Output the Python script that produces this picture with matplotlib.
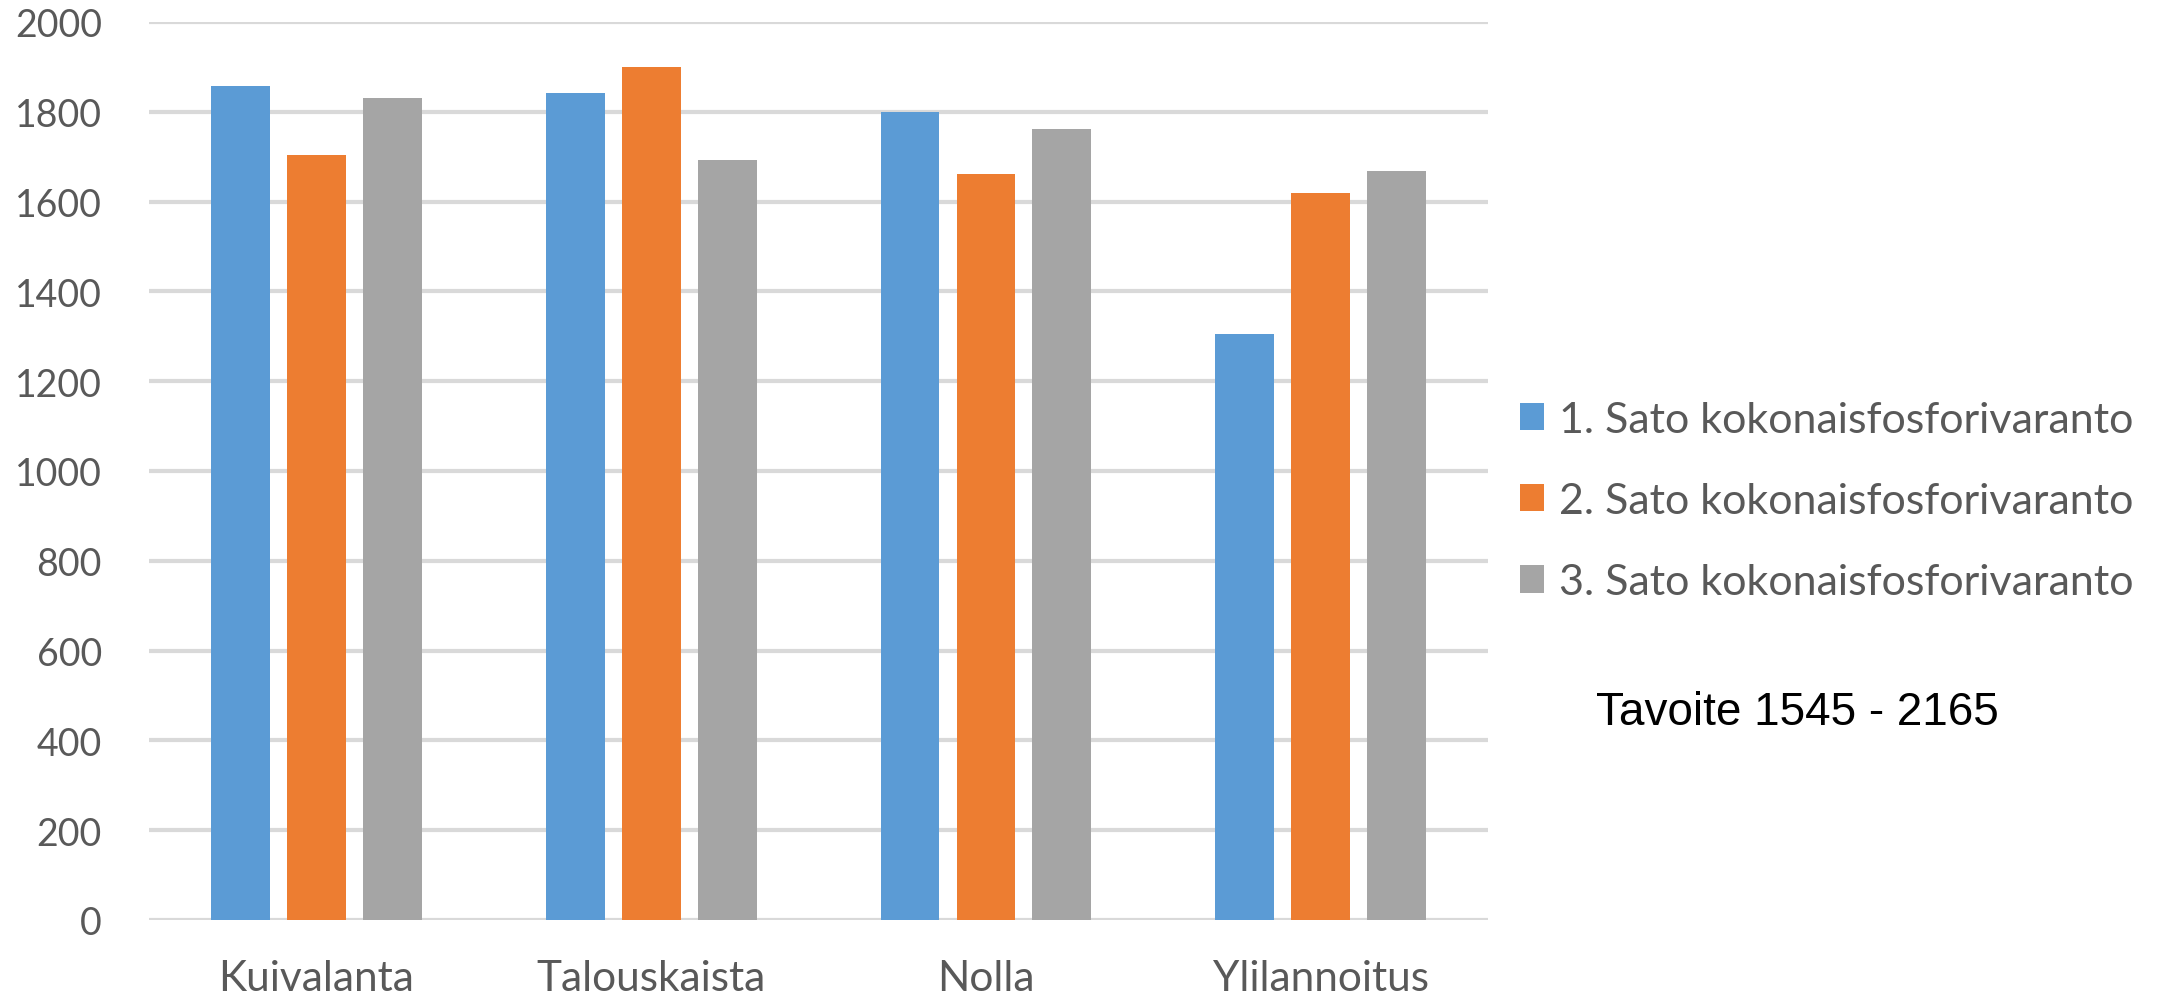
import matplotlib.pyplot as plt
import numpy as np

# Categories and series values
categories = ['Kuivalanta', 'Talouskaista', 'Nolla', 'Ylilannoitus']
sato1 = [1857, 1841, 1799, 1304]
sato2 = [1704, 1899, 1662, 1620]
sato3 = [1831, 1693, 1761, 1667]
series_names = ['1. Sato kokonaisfosforivaranto',
                '2. Sato kokonaisfosforivaranto',
                '3. Sato kokonaisfosforivaranto']
colors = ['#5B9BD5', '#ED7D31', '#A5A5A5']
yticks = [0, 200, 400, 600, 800, 1000, 1200, 1400, 1600, 1800, 2000]

plt.rcParams['font.family'] = ['Lato', 'DejaVu Sans']

fig = plt.figure(figsize=(21.67, 9.95), dpi=100)
ax = fig.add_axes([0.0688, 0.0744, 0.6179, 0.9026])

x = np.arange(len(categories))
step = 0.227
width = 0.176
for i, (vals, name, col) in enumerate(zip([sato1, sato2, sato3], series_names, colors)):
    ax.bar(x + (i - 1) * step, vals, width=width, color=col, label=name, zorder=3)

ax.set_xlim(-0.5, len(categories) - 0.5)
ax.set_ylim(0, 2000)
ax.set_yticks(yticks)
ax.set_xticks(x)
ax.set_xticklabels(categories)
ax.grid(axis='y', color='#D9D9D9', linewidth=3, zorder=0)
ax.set_axisbelow(True)
for s in ax.spines.values():
    s.set_visible(False)
ax.tick_params(axis='both', length=0, labelcolor='#595959')
ax.tick_params(axis='y', pad=34, labelsize=27)
ax.tick_params(axis='x', pad=28, labelsize=30.5)

fig.legend(loc='center left', bbox_to_anchor=(0.6835, 0.4955), frameon=False,
           fontsize=31, labelcolor='#595959', handlelength=0.55, handleheight=0.6,
           handletextpad=0.35, labelspacing=1.0)

fig.text(0.7365, 0.2834, 'Tavoite 1545 - 2165', fontsize=33,
         family='Liberation Sans', color='black', va='center', ha='left')

fig.savefig('out.png', dpi=100)
